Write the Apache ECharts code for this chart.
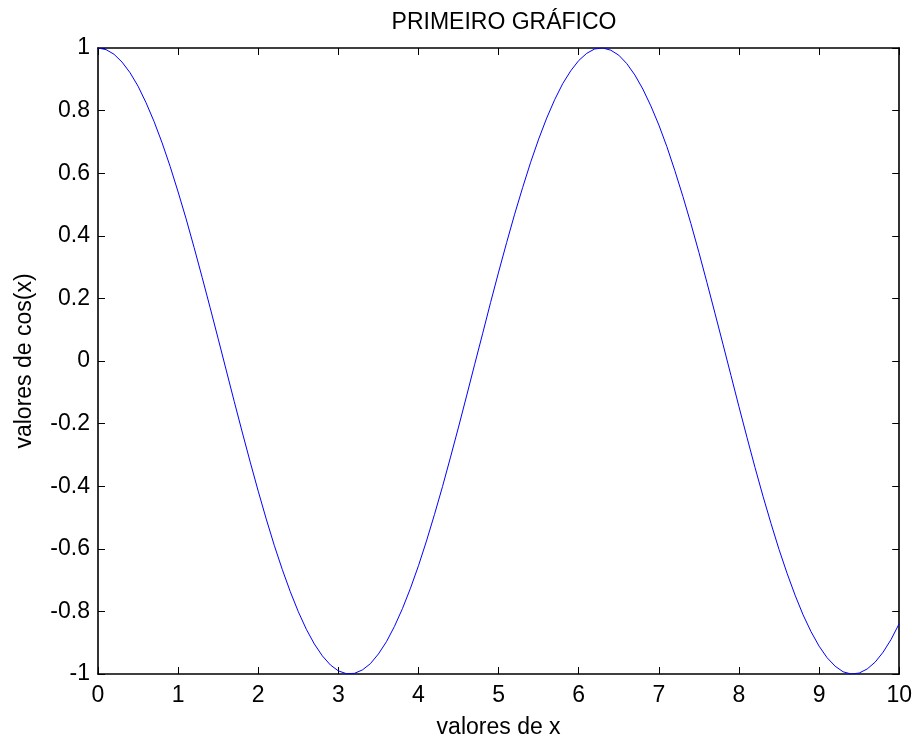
<!DOCTYPE html>
<html>
<head>
<meta charset="utf-8">
<title>PRIMEIRO GRÁFICO</title>
<script src="https://cdn.jsdelivr.net/npm/echarts@6/dist/echarts.min.js"></script>
<style>
  html, body { margin: 0; padding: 0; background: #ffffff; }
  #chart { width: 915px; height: 744px; }
</style>
</head>
<body>
<div id="chart"></div>
<script>
// x sampled from 0 to 10 in steps of 0.1
const xValues = [
  0.0, 0.1, 0.2, 0.3, 0.4, 0.5, 0.6, 0.7, 0.8, 0.9,
  1.0, 1.1, 1.2, 1.3, 1.4, 1.5, 1.6, 1.7, 1.8, 1.9,
  2.0, 2.1, 2.2, 2.3, 2.4, 2.5, 2.6, 2.7, 2.8, 2.9,
  3.0, 3.1, 3.2, 3.3, 3.4, 3.5, 3.6, 3.7, 3.8, 3.9,
  4.0, 4.1, 4.2, 4.3, 4.4, 4.5, 4.6, 4.7, 4.8, 4.9,
  5.0, 5.1, 5.2, 5.3, 5.4, 5.5, 5.6, 5.7, 5.8, 5.9,
  6.0, 6.1, 6.2, 6.3, 6.4, 6.5, 6.6, 6.7, 6.8, 6.9,
  7.0, 7.1, 7.2, 7.3, 7.4, 7.5, 7.6, 7.7, 7.8, 7.9,
  8.0, 8.1, 8.2, 8.3, 8.4, 8.5, 8.6, 8.7, 8.8, 8.9,
  9.0, 9.1, 9.2, 9.3, 9.4, 9.5, 9.6, 9.7, 9.8, 9.9,
  10.0
];

// cos(x) values at those samples
const cosValues = [
  1.000, 0.995, 0.980, 0.955, 0.921, 0.878, 0.825, 0.765, 0.697, 0.622,
  0.540, 0.454, 0.362, 0.267, 0.170, 0.071, -0.029, -0.129, -0.227, -0.323,
  -0.416, -0.505, -0.589, -0.666, -0.737, -0.801, -0.857, -0.904, -0.942, -0.971,
  -0.990, -0.999, -0.998, -0.987, -0.967, -0.936, -0.897, -0.848, -0.791, -0.726,
  -0.654, -0.575, -0.490, -0.401, -0.307, -0.211, -0.112, -0.012, 0.087, 0.187,
  0.284, 0.378, 0.469, 0.554, 0.635, 0.709, 0.776, 0.835, 0.886, 0.927,
  0.960, 0.983, 0.997, 1.000, 0.993, 0.977, 0.950, 0.914, 0.869, 0.815,
  0.754, 0.685, 0.608, 0.526, 0.439, 0.347, 0.251, 0.153, 0.054, -0.046,
  -0.146, -0.244, -0.340, -0.432, -0.519, -0.602, -0.678, -0.748, -0.811, -0.865,
  -0.911, -0.948, -0.975, -0.993, -1.000, -0.997, -0.984, -0.962, -0.930, -0.889,
  -0.839
];

const titleText = 'PRIMEIRO GRÁFICO';
const xLabel = 'valores de x';
const yLabel = 'valores de cos(x)';

const FONT = '"Liberation Sans", Arial, Helvetica, sans-serif';
const FS = 23;

const chart = echarts.init(document.getElementById('chart'), null, { renderer: 'canvas' });

const frameStyle = { color: '#000000', width: 1.6 };
const tickStyle = { color: '#000000', width: 1 };

// top and right axes only repeat the tick marks, like a boxed plot
function mirrorAxis(pos, min, max, interval) {
  return {
    type: 'value', position: pos, min: min, max: max, interval: interval,
    axisLine: { show: true, onZero: false, lineStyle: frameStyle },
    axisTick: { show: true, inside: true, length: 7, lineStyle: tickStyle },
    axisLabel: { show: false },
    splitLine: { show: false }
  };
}

chart.setOption({
  animation: false,
  backgroundColor: '#ffffff',
  textStyle: { fontFamily: FONT },
  title: {
    text: titleText,
    left: 499,
    top: 6,
    textAlign: 'center',
    textStyle: { fontFamily: FONT, fontSize: FS, fontWeight: 'normal', color: '#000000' }
  },
  grid: { left: 98, right: 14, top: 48, bottom: 63, containLabel: false },
  xAxis: [
    {
      type: 'value', position: 'bottom', min: 0, max: 10, interval: 1,
      name: xLabel, nameLocation: 'middle', nameGap: 42,
      nameTextStyle: { fontFamily: FONT, fontSize: FS, color: '#000000' },
      axisLine: { show: true, onZero: false, lineStyle: frameStyle },
      axisTick: { show: true, inside: true, length: 7, lineStyle: tickStyle },
      axisLabel: { show: true, margin: 10, fontFamily: FONT, fontSize: FS, color: '#000000' },
      splitLine: { show: false }
    },
    mirrorAxis('top', 0, 10, 1)
  ],
  yAxis: [
    {
      type: 'value', position: 'left', min: -1, max: 1, interval: 0.2,
      name: yLabel, nameLocation: 'middle', nameGap: 62,
      nameTextStyle: { fontFamily: FONT, fontSize: FS, color: '#000000' },
      axisLine: { show: true, onZero: false, lineStyle: frameStyle },
      axisTick: { show: true, inside: true, length: 7, lineStyle: tickStyle },
      axisLabel: {
        show: true, margin: 8, fontFamily: FONT, fontSize: FS, color: '#000000',
        formatter: function (v) { return String(Math.round(v * 10) / 10); }
      },
      splitLine: { show: false }
    },
    mirrorAxis('right', -1, 1, 0.2)
  ],
  series: [
    {
      type: 'line',
      xAxisIndex: 0,
      yAxisIndex: 0,
      data: xValues.map(function (x, i) { return [x, cosValues[i]]; }),
      showSymbol: false,
      symbol: 'none',
      smooth: false,
      lineStyle: { color: '#0000ff', width: 1 },
      clip: true
    }
  ]
});
</script>
</body>
</html>
